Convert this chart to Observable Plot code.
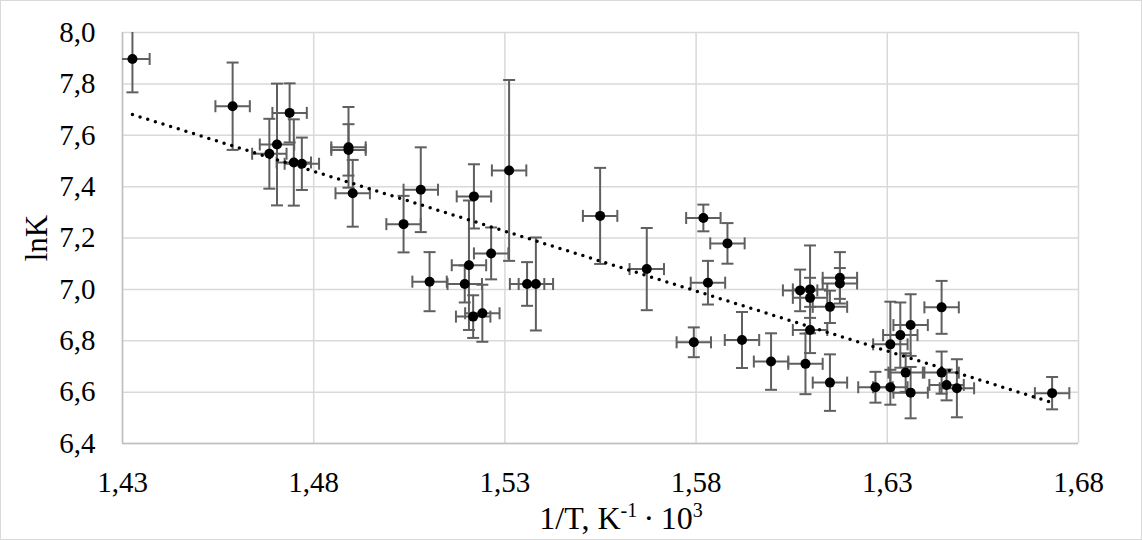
<!DOCTYPE html>
<html>
<head>
<meta charset="utf-8">
<script src="https://cdn.jsdelivr.net/npm/d3@7"></script>
<script src="https://cdn.jsdelivr.net/npm/@observablehq/plot@0.6"></script>
<style>
  html, body { margin: 0; padding: 0; background: #fff; }
  #chart svg { display: block; outline: 1px solid #d9d9d9; outline-offset: -1px; }
</style>
</head>
<body>
<div id="chart"></div>
<script>
// 1/T, K^-1·10^3
const invT = [1.4326, 1.4588, 1.4684, 1.4704, 1.4737, 1.4748, 1.4769, 1.4891, 1.4891, 1.4902,
  1.5035, 1.5080, 1.5103, 1.5195, 1.5206, 1.5219, 1.5217, 1.5241, 1.5264, 1.5311,
  1.5358, 1.5381, 1.5549, 1.5671, 1.5794, 1.5819, 1.5831, 1.5882, 1.5920, 1.5996,
  1.6072, 1.6098, 1.6098, 1.6086, 1.6098, 1.6150, 1.6150, 1.6176, 1.6176, 1.6269,
  1.6308, 1.6308, 1.6334, 1.6361, 1.6348, 1.6361, 1.6442, 1.6442, 1.6455, 1.6482, 1.6731];
// lnK
const lnK = [7.897, 7.713, 7.528, 7.564, 7.687, 7.494, 7.489, 7.553, 7.543, 7.374,
  7.254, 7.388, 7.030, 7.021, 7.094, 7.362, 6.894, 6.907, 7.140, 7.463,
  7.021, 7.021, 7.286, 7.079, 6.794, 7.278, 7.026, 7.179, 6.803, 6.719,
  6.996, 7.000, 6.967, 6.710, 6.842, 6.932, 6.637, 7.045, 7.023, 6.619,
  6.786, 6.619, 6.822, 6.861, 6.676, 6.598, 6.930, 6.676, 6.628, 6.615, 6.596];
// error of lnK
const lnKErr = [0.13, 0.17, 0.136, 0.237, 0.115, 0.168, 0.102, 0.157, 0.10, 0.13,
  0.11, 0.165, 0.115, 0.072, 0.252, 0.125, 0.083, 0.111, 0.101, 0.352,
  0.085, 0.181, 0.187, 0.16, 0.058, 0.052, 0.085, 0.079, 0.109, 0.11,
  0.081, 0.171, 0.078, 0.118, 0.09, 0.063, 0.11, 0.1, 0.06, 0.06,
  0.166, 0.068, 0.127, 0.12, 0.075, 0.1, 0.103, 0.082, 0.06, 0.113, 0.063];
// error of 1/T
const invTErr = invT.map(() => 0.0045);

const xTicks = [1.43, 1.48, 1.53, 1.58, 1.63, 1.68];
const yTicks = [6.4, 6.6, 6.8, 7.0, 7.2, 7.4, 7.6, 7.8, 8.0];

const data = invT.map((x, i) => ({x, y: lnK[i], ey: lnKErr[i], ex: invTErr[i]}));

const hcap = {draw(ctx, size) { const r = Math.sqrt(size / Math.PI); ctx.moveTo(-r, 0); ctx.lineTo(r, 0); }};
const vcap = {draw(ctx, size) { const r = Math.sqrt(size / Math.PI); ctx.moveTo(0, -r); ctx.lineTo(0, r); }};

const comma = (d, n) => d.toFixed(n).replace(".", ",");
const errColor = "#5f5f5f";
const font = "'Liberation Serif', 'Times New Roman', serif";

const chart = Plot.plot({
  width: 1142,
  height: 540,
  marginLeft: 122,
  marginRight: 64,
  marginTop: 32,
  marginBottom: 97,
  style: {background: "#fff", color: "#000"},
  x: {domain: [1.43, 1.68]},
  y: {domain: [6.4, 8.0]},
  marks: [
    Plot.gridX(xTicks, {stroke: "#d9d9d9", strokeOpacity: 1, strokeWidth: 1.5}),
    Plot.gridY(yTicks, {stroke: "#d9d9d9", strokeOpacity: 1, strokeWidth: 1.5}),
    Plot.ruleX([1.43], {stroke: "#bfbfbf", strokeWidth: 1.5}),
    Plot.ruleY([6.4], {stroke: "#bfbfbf", strokeWidth: 1.5}),
    Plot.axisX(xTicks, {tickSize: 0, tickPadding: 28, tickFormat: d => comma(d, 2), label: null, fontSize: 29}),
    Plot.axisY(yTicks, {tickSize: 0, tickPadding: 27, tickFormat: d => comma(d, 1), label: null, fontSize: 29}),
    // vertical error bars
    Plot.ruleX(data, {x: "x", y1: d => d.y - d.ey, y2: d => d.y + d.ey, stroke: errColor, strokeWidth: 2, clip: true}),
    Plot.dot(data, {x: "x", y: d => d.y + d.ey, symbol: hcap, r: 6, fill: "none", stroke: errColor, strokeWidth: 2, clip: true}),
    Plot.dot(data, {x: "x", y: d => d.y - d.ey, symbol: hcap, r: 6, fill: "none", stroke: errColor, strokeWidth: 2, clip: true}),
    // horizontal error bars
    Plot.ruleY(data, {y: "y", x1: d => d.x - d.ex, x2: d => d.x + d.ex, stroke: errColor, strokeWidth: 2, clip: true}),
    Plot.dot(data, {x: d => d.x - d.ex, y: "y", symbol: vcap, r: 6, fill: "none", stroke: errColor, strokeWidth: 2, clip: true}),
    Plot.dot(data, {x: d => d.x + d.ex, y: "y", symbol: vcap, r: 6, fill: "none", stroke: errColor, strokeWidth: 2, clip: true}),
    // linear trend line
    Plot.linearRegressionY(data, {x: "x", y: "y", ci: 0, stroke: "#000", strokeWidth: 3.5, strokeDasharray: "0,8", strokeLinecap: "round"}),
    // points
    Plot.dot(data, {x: "x", y: "y", r: 5, fill: "#000", stroke: "none"})
  ]
});

const svg = d3.select(chart);
// y-axis title
svg.append("text")
  .attr("transform", "translate(36,238) rotate(-90)")
  .attr("text-anchor", "middle")
  .attr("dominant-baseline", "central")
  .style("font-size", "31px")
  .attr("fill", "#000")
  .text("lnK");
// x-axis title with superscripts
const xt = svg.append("text")
  .attr("x", 621).attr("y", 529)
  .attr("text-anchor", "middle")
  .style("font-size", "32px")
  .attr("fill", "#000");
xt.append("tspan").text("1/T, K");
xt.append("tspan").attr("dy", -12).style("font-size", "20px").text("-1");
xt.append("tspan").attr("dy", 12).text("\u2009·\u200910");
xt.append("tspan").attr("dy", -12).style("font-size", "20px").text("3");

svg.selectAll("text").style("font-family", font);

document.getElementById("chart").append(chart);
</script>
</body>
</html>
